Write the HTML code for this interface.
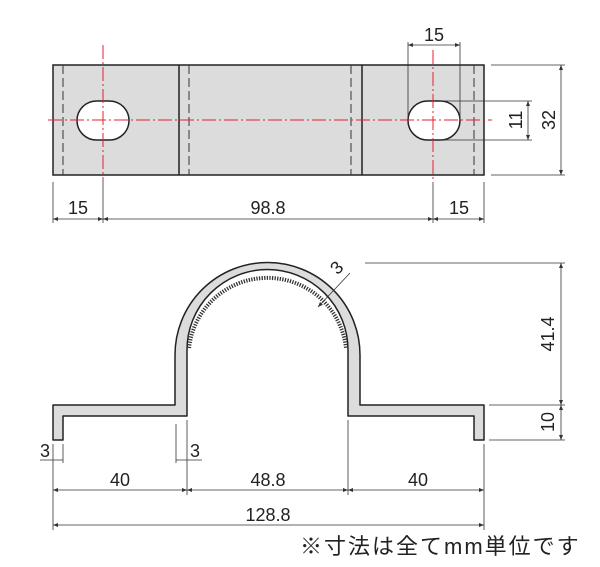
<!DOCTYPE html>
<html><head><meta charset="utf-8"><style>
html,body{margin:0;padding:0;background:#fff;width:600px;height:567px;overflow:hidden}
svg{display:block}
text{font-family:"Liberation Sans","Noto Sans CJK JP",sans-serif;fill:#222}
</style></head><body>
<svg width="600" height="567" viewBox="0 0 600 567" xmlns="http://www.w3.org/2000/svg">
<defs>
<marker id="a" viewBox="0 0 10 10" refX="10" refY="5" markerWidth="8" markerHeight="5" orient="auto-start-reverse" markerUnits="userSpaceOnUse"><path d="M0,1 L10,5 L0,9 Z" fill="#333"/></marker>
</defs>
<!-- TOP VIEW -->
<rect x="53" y="65" width="431" height="110" fill="#dcdcdc" stroke="#222" stroke-width="1.5"/>
<line x1="179" y1="65" x2="179" y2="175" stroke="#222" stroke-width="1.5"/>
<line x1="362" y1="65" x2="362" y2="175" stroke="#222" stroke-width="1.5"/>
<g stroke="#333" stroke-width="1" stroke-dasharray="9,4">
<line x1="63" y1="65" x2="63" y2="175"/><line x1="189" y1="65" x2="189" y2="175"/>
<line x1="351" y1="65" x2="351" y2="175"/><line x1="474" y1="65" x2="474" y2="175"/>
</g>
<rect x="77" y="101" width="52" height="39" rx="19.5" fill="#fff" stroke="#222" stroke-width="1.5"/>
<rect x="408" y="101" width="52" height="39" rx="19.5" fill="#fff" stroke="#222" stroke-width="1.5"/>
<g stroke="#e8202a" stroke-width="1" stroke-dasharray="14,3,2,3">
<line x1="48" y1="120" x2="492" y2="120"/>
<line x1="103" y1="45" x2="103" y2="182"/>
<line x1="433" y1="50" x2="433" y2="182"/>
</g>
<g stroke="#333" stroke-width="0.8" fill="none">
<line x1="408" y1="42" x2="408" y2="120"/><line x1="460" y1="42" x2="460" y2="120"/>
<line x1="408" y1="45" x2="460" y2="45" marker-start="url(#a)" marker-end="url(#a)"/>
<line x1="440" y1="101" x2="532" y2="101"/><line x1="440" y1="140" x2="532" y2="140"/>
<line x1="528" y1="101" x2="528" y2="140" marker-start="url(#a)" marker-end="url(#a)"/>
<line x1="491" y1="65" x2="565" y2="65"/><line x1="491" y1="175" x2="565" y2="175"/>
<line x1="561" y1="65" x2="561" y2="175" marker-start="url(#a)" marker-end="url(#a)"/>
<line x1="53" y1="182" x2="53" y2="223"/><line x1="103" y1="182" x2="103" y2="223"/>
<line x1="433" y1="182" x2="433" y2="223"/><line x1="484" y1="182" x2="484" y2="223"/>
<line x1="53" y1="219" x2="103" y2="219" marker-start="url(#a)" marker-end="url(#a)"/>
<line x1="103" y1="219" x2="433" y2="219" marker-start="url(#a)" marker-end="url(#a)"/>
<line x1="433" y1="219" x2="484" y2="219" marker-start="url(#a)" marker-end="url(#a)"/>
</g>
<text x="434" y="41" font-size="18" text-anchor="middle">15</text>
<text x="78" y="214" font-size="18" text-anchor="middle">15</text>
<text x="268" y="214" font-size="18" text-anchor="middle">98.8</text>
<text x="459" y="214" font-size="18" text-anchor="middle">15</text>
<text transform="translate(522,120) rotate(-90)" font-size="18" text-anchor="middle">11</text>
<text transform="translate(555,120) rotate(-90)" font-size="18" text-anchor="middle">32</text>
<!-- PROFILE -->
<path d="M53,440 L53,405 L175,405 L175,355 A92.5,92.5 0 0 1 360,355 L360,405 L484,405 L484,440 L474,440 L474,416 L348,416 L348,350 A80.5,80.5 0 0 0 187,350 L187,416 L63,416 L63,440 Z" fill="#dcdcdc" stroke="#222" stroke-width="1.5" stroke-linejoin="round"/>
<path d="M189,348 A79,79 0 0 1 346,348" fill="none" stroke="#333" stroke-width="4" stroke-dasharray="1.3,1.3"/>
<g stroke="#333" stroke-width="0.8" fill="none">
<line x1="318" y1="307" x2="350" y2="273" marker-start="url(#a)"/>
<line x1="365" y1="263" x2="565" y2="263"/>
<line x1="489" y1="405" x2="565" y2="405"/><line x1="489" y1="440" x2="565" y2="440"/>
<line x1="561" y1="263" x2="561" y2="405" marker-start="url(#a)" marker-end="url(#a)"/>
<line x1="561" y1="405" x2="561" y2="440" marker-start="url(#a)" marker-end="url(#a)"/>
<line x1="53" y1="444" x2="53" y2="530"/><line x1="63" y1="444" x2="63" y2="463"/>
<line x1="40" y1="460" x2="63" y2="460"/>
<line x1="176" y1="424" x2="176" y2="463"/><line x1="187" y1="420" x2="187" y2="495"/>
<line x1="176" y1="460" x2="202" y2="460"/>
<line x1="348" y1="420" x2="348" y2="495"/><line x1="484" y1="444" x2="484" y2="530"/>
<line x1="53" y1="490" x2="187" y2="490" marker-start="url(#a)" marker-end="url(#a)"/>
<line x1="187" y1="490" x2="348" y2="490" marker-start="url(#a)" marker-end="url(#a)"/>
<line x1="348" y1="490" x2="484" y2="490" marker-start="url(#a)" marker-end="url(#a)"/>
<line x1="53" y1="525" x2="484" y2="525" marker-start="url(#a)" marker-end="url(#a)"/>
</g>
<text transform="translate(341,272) rotate(-45)" font-size="18" text-anchor="middle">3</text>
<text transform="translate(554,334) rotate(-90)" font-size="18" text-anchor="middle">41.4</text>
<text transform="translate(554,422) rotate(-90)" font-size="18" text-anchor="middle">10</text>
<text x="45" y="457" font-size="18" text-anchor="middle">3</text>
<text x="195" y="457" font-size="18" text-anchor="middle">3</text>
<text x="120" y="486" font-size="18" text-anchor="middle">40</text>
<text x="268" y="486" font-size="18" text-anchor="middle">48.8</text>
<text x="418" y="486" font-size="18" text-anchor="middle">40</text>
<text x="268" y="521" font-size="18" text-anchor="middle">128.8</text>
<text x="300" y="554" font-size="22" letter-spacing="2">※寸法は全てmm単位です</text>
</svg>
</body></html>
